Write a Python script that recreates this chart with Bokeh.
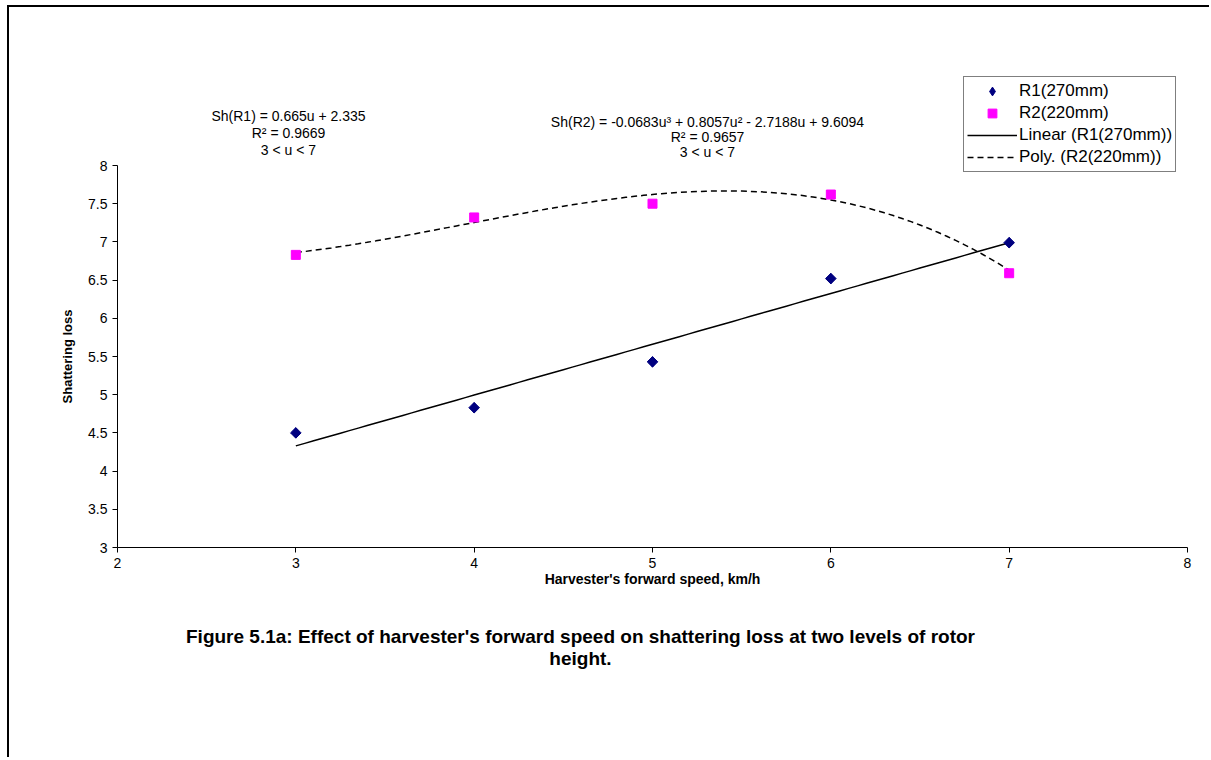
import math
from bokeh.plotting import figure
from bokeh.models import (Range1d, FixedTicker, Label, Legend, LegendItem, ColumnDataSource,
                          LinearAxis)
from bokeh.embed import file_html
from bokeh.resources import INLINE

# ---------------- data ----------------
speed = [3, 4, 5, 6, 7]
r1_loss = [4.50, 4.83, 5.43, 6.52, 6.99]
r2_loss = [6.83, 7.32, 7.50, 7.62, 6.59]

# trend-line coefficients as printed in the chart
lin_coef = [0.665, 2.335]                       # slope, intercept
poly_coef = [-0.0683, 0.8057, -2.7188, 9.6094]  # u^3, u^2, u, const
fit_range = [3, 7]

x_ticks = [2, 3, 4, 5, 6, 7, 8]
x_tick_labels = ["2", "3", "4", "5", "6", "7", "8"]
y_ticks = [3, 3.5, 4, 4.5, 5, 5.5, 6, 6.5, 7, 7.5, 8]
y_tick_labels = ["3", "3.5", "4", "4.5", "5", "5.5", "6", "6.5", "7", "7.5", "8"]

series_names = ["R1(270mm)", "R2(220mm)", "Linear (R1(270mm))", "Poly. (R2(220mm))"]

eq1 = ["Sh(R1) = 0.665u + 2.335", "R\u00b2 = 0.9669", "3 < u < 7"]
eq2 = ["Sh(R2) = -0.0683u\u00b3 + 0.8057u\u00b2 - 2.7188u + 9.6094", "R\u00b2 = 0.9657", "3 < u < 7"]
caption = ["Figure 5.1a: Effect of harvester's forward speed on shattering loss at two levels of rotor",
           "height."]

FONT = "Liberation Sans"

# ---------------- trend lines (evaluated from printed equations) ----------------
n = 81
u = [fit_range[0] + (fit_range[1] - fit_range[0]) * i / (n - 1) for i in range(n)]
lin_y = [lin_coef[0] * v + lin_coef[1] for v in u]
poly_y = [poly_coef[0] * v ** 3 + poly_coef[1] * v ** 2 + poly_coef[2] * v + poly_coef[3] for v in u]

# ---------------- layout geometry (page pixels) ----------------
W, H = 1202, 752          # canvas size
OX, OY = 9, 7             # canvas origin on the page
PX2, PX8 = 117, 1187      # page x of u=2 and u=8
PY3, PY8 = 547, 165       # page y of loss=3 and loss=8
sx = (PX8 - PX2) / 6.0
sy = (PY3 - PY8) / 5.0
x0 = 2 - (PX2 - OX) / sx
x1 = x0 + W / sx
y1 = 8 + (PY8 - OY) / sy
y0 = y1 - H / sy

def dx(px):
    return 2 + (px - PX2) / sx

def dy(py):
    return 3 + (PY3 - py) / sy

p = figure(width=W, height=H, x_range=Range1d(x0, x1), y_range=Range1d(y0, y1),
           x_axis_type=None, y_axis_type=None,
           output_backend="svg", toolbar_location=None,
           min_border=0, min_border_left=0, min_border_right=0,
           min_border_top=0, min_border_bottom=0)
p.styles = {"margin-left": "7px", "margin-top": "5px",
            "border-top": "2px solid black", "border-left": "2px solid black"}
p.outline_line_color = None
p.grid.visible = False
p.background_fill_color = "white"
p.border_fill_color = "white"

xaxis = LinearAxis(fixed_location=3, bounds=(2, 8))
yaxis = LinearAxis(fixed_location=2, bounds=(3, 8))
p.add_layout(xaxis, "below")
p.add_layout(yaxis, "left")

for ax in (xaxis, yaxis):
    ax.axis_line_color = "black"
    ax.axis_line_width = 1
    ax.major_tick_line_color = "black"
    ax.major_tick_out = 5
    ax.major_tick_in = 0
    ax.minor_tick_line_color = None
    ax.major_label_text_font = FONT
    ax.major_label_text_font_size = "14px"
    ax.major_label_text_color = "black"
    ax.axis_label_text_font = FONT
    ax.axis_label_text_font_style = "bold"
    ax.axis_label_text_color = "black"
    ax.major_label_standoff = 5

xaxis.ticker = FixedTicker(ticks=x_ticks)
xaxis.major_label_overrides = {t: l for t, l in zip(x_ticks, x_tick_labels)}
yaxis.ticker = FixedTicker(ticks=y_ticks)
yaxis.major_label_overrides = {t: l for t, l in zip(y_ticks, y_tick_labels)}
xaxis.axis_label = "Harvester's forward speed, km/h"
yaxis.axis_label = "Shattering loss"
xaxis.axis_label_text_font_size = "14px"
yaxis.axis_label_text_font_size = "13px"
xaxis.axis_label_standoff = 0
yaxis.axis_label_standoff = 10

# trend lines
lin_r = p.line(u, lin_y, line_color="black", line_width=1.5)
poly_r = p.line(u, poly_y, line_color="black", line_width=1.5, line_dash="6 4")

# points
src1 = ColumnDataSource(dict(x=speed, y=r1_loss))
src2 = ColumnDataSource(dict(x=speed, y=r2_loss))
# R1 diamonds: a diamond marker (used for the legend key) under a rotated square
r1_key = p.scatter("x", "y", source=src1, marker="diamond", size=10,
                   fill_color="#000080", line_color="#000080")
r1 = p.scatter("x", "y", source=src1, marker="square", angle=math.pi / 4, size=7.5,
               fill_color="#000080", line_color="#000080")
r2 = p.scatter("x", "y", source=src2, marker="square", size=9,
               fill_color="#FF00FF", line_color="#FF00FF")

legend = Legend(items=[
    LegendItem(label=series_names[0], renderers=[r1_key]),
    LegendItem(label=series_names[1], renderers=[r2]),
    LegendItem(label=series_names[2], renderers=[lin_r]),
    LegendItem(label=series_names[3], renderers=[poly_r]),
], location=(963 - OX, H - (172 - OY)))
legend.label_text_font = FONT
legend.label_text_font_size = "17px"
legend.label_text_color = "black"
legend.label_height = 22
legend.glyph_height = 22
legend.glyph_width = 50
legend.spacing = 0
legend.padding = 3
legend.margin = 0
legend.label_standoff = 2
legend.border_line_color = "black"
legend.border_line_width = 1
legend.background_fill_color = "white"
legend.background_fill_alpha = 1
p.add_layout(legend, "center")

def add_text(txt, px, py, size="14px", bold=False):
    lab = Label(x=dx(px), y=dy(py), text=txt, text_align="center", text_baseline="middle",
                text_font=FONT, text_font_size=size, text_color="black",
                text_font_style="bold" if bold else "normal")
    p.add_layout(lab)

for t, py in zip(eq1, [115, 132, 149]):
    add_text(t, 288, py)
for t, py in zip(eq2, [121, 136, 151]):
    add_text(t, 707, py)
for t, py in zip(caption, [636, 658]):
    add_text(t, 580, py, size="19px", bold=True)

html = file_html(p, INLINE, title="Shattering loss")
with open("out.html", "w") as f:
    f.write(html)
